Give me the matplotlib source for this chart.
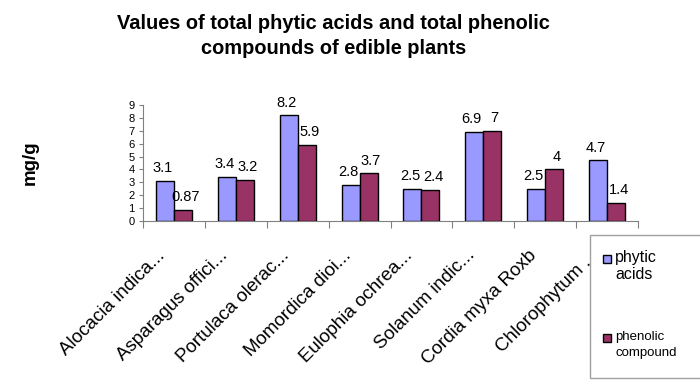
import matplotlib
matplotlib.use("Agg")
from matplotlib import pyplot as plt
from matplotlib.patches import Rectangle
import numpy as np

plt.rcParams['font.family'] = ['Liberation Sans', 'DejaVu Sans']

plants = ['Alocacia indica...', 'Asparagus offici...', 'Portulaca olerac...',
          'Momordica dioi...', 'Eulophia ochrea...', 'Solanum indic...',
          'Cordia myxa Roxb', 'Chlorophytum ...']
phytic = [3.1, 3.4, 8.2, 2.8, 2.5, 6.9, 2.5, 4.7]
phenolic = [0.87, 3.2, 5.9, 3.7, 2.4, 7, 4, 1.4]
phytic_labels = ['3.1', '3.4', '8.2', '2.8', '2.5', '6.9', '2.5', '4.7']
phenolic_labels = ['0.87', '3.2', '5.9', '3.7', '2.4', '7', '4', '1.4']

blue = '#9999FF'
plum = '#993366'

W, H = 700, 388
fig = plt.figure(figsize=(7, 3.88), dpi=100)
ax = fig.add_axes([143 / W, 1 - 221 / H, (638 - 143) / W, (221 - 105) / H])

x = np.arange(len(plants))
w = 0.29
b1 = ax.bar(x - w / 2, phytic, w, color=blue, edgecolor='black', linewidth=1)
b2 = ax.bar(x + w / 2, phenolic, w, color=plum, edgecolor='black', linewidth=1)

for bar, lab in zip(b1, phytic_labels):
    ax.text(bar.get_x() + bar.get_width() / 2 - 0.04, bar.get_height() + 0.45, lab,
            ha='center', va='bottom', fontsize=10.5)
for bar, lab in zip(b2, phenolic_labels):
    ax.text(bar.get_x() + bar.get_width() / 2 + 0.04, bar.get_height() + 0.45, lab,
            ha='center', va='bottom', fontsize=10.5)

ax.set_xlim(-0.5, len(plants) - 0.5)
ax.set_ylim(0, 9)
ax.set_yticks(range(0, 10))
ax.tick_params(axis='y', labelsize=8, length=3, color='#808080', pad=3)

# ticks on the category boundaries, names rotated under the centres
ax.set_xticks(np.arange(len(plants) + 1) - 0.5)
ax.set_xticklabels([])
ax.tick_params(axis='x', length=5, color='#808080')
for i, name in enumerate(plants):
    ax.text(i - 0.28, -2.0, name, rotation=45, ha='right', va='top',
            rotation_mode='anchor', fontsize=13.5)

for side in ['top', 'right']:
    ax.spines[side].set_visible(False)
for side in ['left', 'bottom']:
    ax.spines[side].set_color('#808080')

fig.text(0.476, 1 - 14 / H, 'Values of total phytic acids and total phenolic\ncompounds of edible plants',
         ha='center', va='top', fontsize=14.4, fontweight='bold', linespacing=1.38)
fig.text(30 / W, 1 - 163 / H, 'mg/g', rotation=90, ha='center', va='center',
         fontsize=13.5, fontweight='bold')

# legend box, running off the right edge like the original
fig.patches.append(Rectangle((590 / W, 1 - 378 / H), 120 / W, (378 - 235) / H,
                             transform=fig.transFigure, facecolor='white',
                             edgecolor='#a0a0a0', linewidth=1, zorder=3))
for col, ymark in [(blue, 259), (plum, 338)]:
    fig.patches.append(Rectangle((603 / W, 1 - (ymark + 4) / H), 8 / W, 8 / H,
                                 transform=fig.transFigure, facecolor=col,
                                 edgecolor='black', linewidth=1, zorder=4))
fig.text(615 / W, 1 - 250 / H, 'phytic\nacids', ha='left', va='top',
         fontsize=11.5, linespacing=1.2, zorder=5)
fig.text(615 / W, 1 - 331 / H, 'phenolic\ncompound', ha='left', va='top',
         fontsize=9.5, linespacing=1.45, zorder=5)

fig.savefig('out.png', dpi=100)
